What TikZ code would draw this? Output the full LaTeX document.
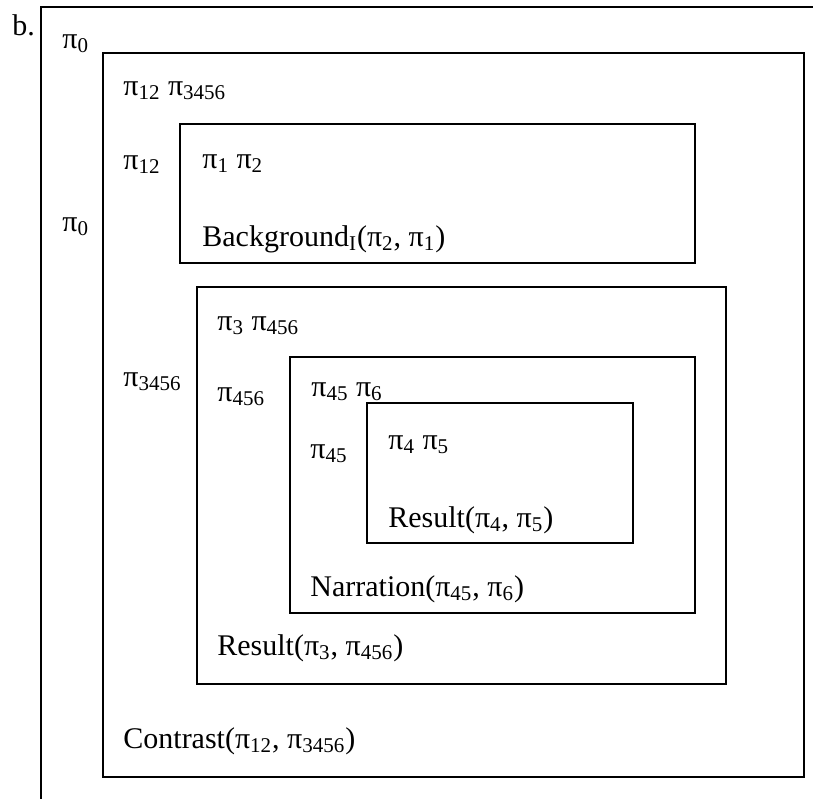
\documentclass[tikz,border=0pt]{standalone}
\usepackage{fontspec}
\setmainfont{Liberation Serif}
\newcommand{\pix}[1]{π\textsubscript{#1}}
\tikzset{
  lbl/.style={anchor=base west,inner sep=0pt},
  frame/.style={line width=1pt}
}

\begin{document}
\begin{tikzpicture}[x=0.5pt,y=-0.5pt,font=\fontsize{15}{18}\selectfont]
\useasboundingbox (0,0) rectangle (813,799);

% open outer frame
\draw[frame] (813,6.5) -- (41,6.5) -- (41,799);
\node[lbl] (b) at (12,35) {b.};
\node[lbl] (p0top) at (62,48) {\pix{0}};
\node[lbl] (p0) at (62,231) {\pix{0}};

% Contrast box
\draw[frame] (103,53) rectangle (804,777);
\node[lbl] (p12p3456) at (123,95) {\pix{12} \pix{3456}};
\node[lbl] (p12) at (123,169) {\pix{12}};
\node[lbl] (p3456) at (123,386) {\pix{3456}};
\node[lbl] (contrast) at (123,748) {Contrast(\pix{12}, \pix{3456})};

% Background box
\draw[frame] (180,124) rectangle (695,263);
\node[lbl] (p1p2) at (202,168) {\pix{1} \pix{2}};
\node[lbl] (backgr) at (202,246) {Background\textsubscript{I}(\pix{2}, \pix{1})};

% Result box (3, 456)
\draw[frame] (197,287) rectangle (726,684);
\node[lbl] (p3p456) at (217,330) {\pix{3} \pix{456}};
\node[lbl] (p456) at (217,401) {\pix{456}};
\node[lbl] (result3) at (217,655) {Result(\pix{3}, \pix{456})};

% Narration box
\draw[frame] (290,357) rectangle (695,613);
\node[lbl] (p45p6) at (311,396) {\pix{45} \pix{6}};
\node[lbl] (p45) at (310,458) {\pix{45}};
\node[lbl] (narr) at (310,596) {Narration(\pix{45}, \pix{6})};

% Result box (4, 5)
\draw[frame] (367,403) rectangle (633,543);
\node[lbl] (p4p5) at (388,449) {\pix{4} \pix{5}};
\node[lbl] (result4) at (388,527) {Result(\pix{4}, \pix{5})};
\end{tikzpicture}
\end{document}
